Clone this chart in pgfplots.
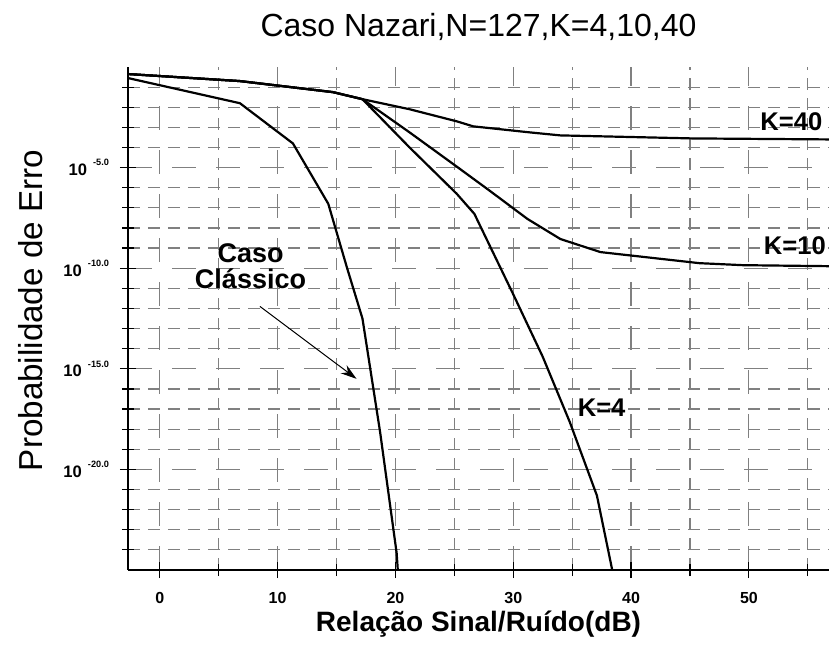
\documentclass[border=0pt]{standalone}
\usepackage{pgfplots}
\pgfplotsset{compat=1.18}
\usepackage{fontspec}
\setmainfont{Liberation Sans}
\usetikzlibrary{arrows.meta}
\newcommand\ylab[1]{{\fontsize{8.3}{9}\selectfont\bfseries 10}\hspace{3pt}\raisebox{4.8pt}{\fontsize{4.6}{5}\selectfont\bfseries #1}}
\begin{document}
\begin{tikzpicture}
\begin{axis}[
  name=ax,
  scale only axis,
  width=350.5pt, height=251.5pt,
  xmin=-2.7, xmax=56.8,
  ymin=-25, ymax=0,
  axis x line*=bottom, axis y line*=left,
  axis line style={-, line width=0.9pt, black},
  xtick={0,10,20,30,40,50},
  xticklabels={0,10,20,30,40,50},
  minor xtick={5,15,25,35,45,55},
  ytick={-20,-15,-10,-5},
  yticklabels={\ylab{-20.0},\ylab{-15.0},\ylab{-10.0},\ylab{-5.0}},
  minor ytick={-24,-23,-22,-21,-19,-18,-17,-16,-14,-13,-12,-11,-9,-8,-7,-6,-4,-3,-2,-1},
  grid=both,
  major grid style={dash pattern=on 12pt off 10pt, black!50, line width=0.6pt},
  minor grid style={dash pattern=on 6pt off 4pt, black!50, line width=0.6pt},
  tick align=center,
  major tick length=8pt, minor tick length=6pt,
  tick style={black, line width=0.6pt},
  xticklabel style={font=\fontsize{8}{9}\selectfont\bfseries, anchor=center, yshift=-10pt},
  yticklabel style={anchor=east, xshift=-2pt},
  clip=false,
]
% Caso Classico
\addplot[black, line width=1.1pt, mark=none] coordinates {
 (-2.7,-0.55) (6.8,-1.8) (11.3,-3.8) (14.3,-6.8) (15.9,-10.0) (17.2,-12.5) (18.7,-18.15) (20.1,-24.15) (20.2,-25)
};
% K=40
\addplot[black, line width=1.1pt, mark=none] coordinates {
 (-2.7,-0.35) (6.8,-0.7) (14.7,-1.25) (17.2,-1.6) (21.2,-2.1) (25.2,-2.7) (26.6,-2.95) (31.4,-3.25) (34,-3.4) (45.2,-3.55) (56.8,-3.6)
};
% K=10
\addplot[black, line width=1.1pt, mark=none] coordinates {
 (-2.7,-0.35) (6.8,-0.7) (14.7,-1.25) (17.2,-1.6) (21.2,-3.25) (25.2,-4.95) (28,-6.15) (31.2,-7.55) (34,-8.55) (37.4,-9.2) (45.8,-9.75) (49.5,-9.85) (56.8,-9.9)
};
% K=4
\addplot[black, line width=1.1pt, mark=none] coordinates {
 (-2.7,-0.35) (6.8,-0.7) (14.7,-1.25) (17.2,-1.6) (21.2,-4.0) (25.2,-6.3) (26.7,-7.3) (30,-11.3) (32.5,-14.4) (34.8,-17.65) (37.1,-21.3) (38.4,-25)
};
\node[font=\fontsize{13.5}{13}\selectfont\bfseries, align=center] at (axis cs:7.7,-9.9) {Caso\\Clássico};
\draw[-{Stealth[length=8pt,width=5pt]}, line width=0.5pt] (axis cs:8.5,-11.9) -- (axis cs:16.7,-15.5);
\node[font=\fontsize{12.8}{13}\selectfont\bfseries] at (axis cs:53.6,-2.7) {K=40};
\node[font=\fontsize{12.8}{13}\selectfont\bfseries] at (axis cs:53.9,-8.9) {K=10};
\node[font=\fontsize{12.8}{13}\selectfont\bfseries] at (axis cs:37.5,-16.95) {K=4};
\end{axis}
\node[anchor=base, font=\fontsize{16}{19}\selectfont] at ([yshift=15pt]ax.north) {Caso Nazari,N=127,K=4,10,40};
\node[anchor=base, font=\fontsize{14}{17}\selectfont\bfseries] at ([yshift=-31pt]ax.south) {Relação Sinal/Ruído(dB)};
\node[rotate=90, anchor=base, font=\fontsize{16.6}{19}\selectfont] at ([xshift=-42.5pt, yshift=4pt]ax.west) {Probabilidade de Erro};
\pgfresetboundingbox
\path ([xshift=-64pt,yshift=-38.5pt]ax.south west) rectangle ([yshift=33.5pt]ax.north east);
\end{tikzpicture}
\end{document}
